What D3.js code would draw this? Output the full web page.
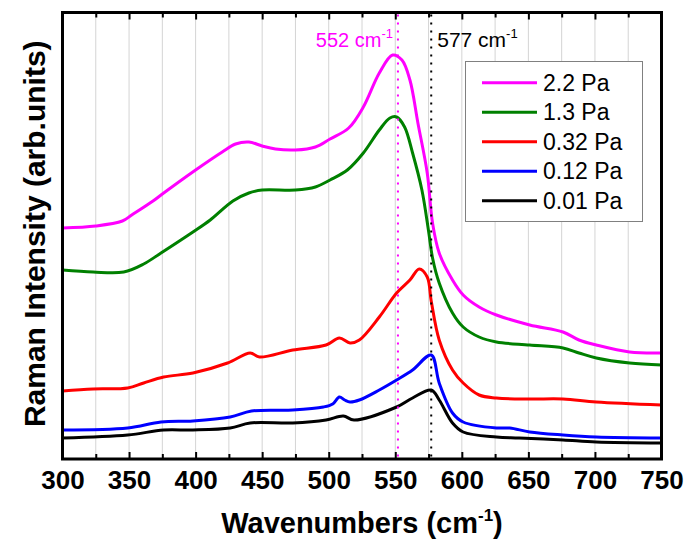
<!DOCTYPE html>
<html>
<head>
<meta charset="utf-8">
<script src="https://cdn.jsdelivr.net/npm/d3@7"></script>
<style>
  html, body { margin: 0; padding: 0; background: #fff; }
  svg { display: block; font-family: "Liberation Sans", Arial, sans-serif; }
</style>
</head>
<body>
<svg id="chart" width="685" height="542"></svg>
<script>
// ---------------- data (arbitrary intensity units) ----------------
const seriesNames = ["2.2 Pa", "1.3 Pa", "0.32 Pa", "0.12 Pa", "0.01 Pa"];
const seriesColors = ["#ff00ff", "#008000", "#ff0000", "#0000ff", "#000000"];

const wave22 = [300,325,345,352,368,375,400,420,430,440,450,460,475,490,501,515,526,538,548,555,561,567,574,578,583,593,601,613,626,651,676,688,701,726,750];
const int22  = [231,233,238,244,258,265,289,307,315,317,313,310,309,312,320,331,352,386,404,399,379,336,286,236,206,179,164,152,144,134,127,119,114,107,106];

const wave13 = [300,323,346,361,374,398,411,428,440,450,475,490,501,514,526,538,546,551,557,563,570,575,578,583,593,601,613,626,651,676,688,701,726,750];
const int13  = [189,187,187,195,206,227,239,258,266,269,269,272,279,289,306,329,341,342,332,306,269,228,201,176,146,132,122,117,114,111,106,101,96,94];

const wave032 = [300,323,349,361,376,398,424,441,448,473,498,508,516,523,538,551,561,568,574,577,583,593,601,613,626,651,676,701,750];
const int032  = [68,70,71,76,82,86,96,106,102,109,114,121,116,119,142,166,179,190,182,158,119,89,76,64,61,60,60,57,54];

const wave012 = [300,349,374,398,426,442,473,496,503,508,512,516,523,538,551,563,577,583,593,601,626,636,651,676,701,750];
const int012  = [29,31,37,38,42,48,49,52,55,62,59,57,59,69,79,89,104,76,46,37,31,31,27,24,22,21];

const wave001 = [300,349,376,398,426,441,473,498,511,519,551,563,577,583,593,601,626,643,676,701,750];
const int001  = [21,24,29,29,31,36,36,39,43,39,52,61,69,59,36,27,22,21,19,17,16];

const xTickValues = [300,350,400,450,500,550,600,650,700,750];
const minorTickValues = [325,375,425,475,525,575,625,675,725];
const markerLines = [552, 577];
const markerLabels = ["552 cm", "577 cm"];

// ---------------- layout ----------------
const svg = d3.select("#chart");
const pL = 62.5, pR = 661.5, pT = 12.5, pB = 459;
const x = d3.scaleLinear().domain([300, 750]).range([pL, pR]);
const y = d3.scaleLinear().domain([0, 446.5]).range([pB, pT]);

const series = [
  {name: seriesNames[0], color: seriesColors[0], xs: wave22, ys: int22},
  {name: seriesNames[1], color: seriesColors[1], xs: wave13, ys: int13},
  {name: seriesNames[2], color: seriesColors[2], xs: wave032, ys: int032},
  {name: seriesNames[3], color: seriesColors[3], xs: wave012, ys: int012},
  {name: seriesNames[4], color: seriesColors[4], xs: wave001, ys: int001}
];

svg.append("defs").append("clipPath").attr("id", "clip")
  .append("rect").attr("x", pL).attr("y", pT).attr("width", pR - pL).attr("height", pB - pT);

// grid lines
svg.append("g").selectAll("line")
  .data(xTickValues.concat(minorTickValues).filter(v => v > 300 && v < 750))
  .join("line")
  .attr("x1", d => x(d)).attr("x2", d => x(d))
  .attr("y1", pT).attr("y2", pB)
  .attr("stroke", "#d4d4d4").attr("stroke-width", 1);

// curves
const line = d3.line().x(d => x(d[0])).y(d => y(d[1])).curve(d3.curveCatmullRom.alpha(0.5));
const plotG = svg.append("g").attr("clip-path", "url(#clip)");
series.slice().reverse().forEach(s => {
  plotG.append("path")
    .datum(s.xs.map((v, i) => [v, s.ys[i]]))
    .attr("fill", "none")
    .attr("stroke", s.color)
    .attr("stroke-width", 3)
    .attr("stroke-linejoin", "round")
    .attr("d", line);
});

// dotted marker lines
svg.append("g").selectAll("line").data(markerLines).join("line")
  .attr("x1", d => x(d)).attr("x2", d => x(d))
  .attr("y1", pT + 2).attr("y2", pB - 1)
  .attr("stroke", (d, i) => i === 0 ? "#ff00ff" : "#000")
  .attr("stroke-width", 2)
  .attr("stroke-dasharray", "2,6");

// axes (ticks inward)
const xAxisBottom = d3.axisBottom(x).tickValues(xTickValues).tickSize(-7).tickFormat(d3.format("d")).tickPadding(12);
const gx = svg.append("g").attr("transform", `translate(0,${pB})`).call(xAxisBottom);
gx.select(".domain").remove();
gx.selectAll(".tick line").attr("stroke", "#000").attr("stroke-width", 2);
gx.selectAll(".tick text").attr("font-size", 26).attr("font-weight", "bold").attr("fill", "#000")
  .attr("font-family", "'Liberation Sans', Arial, sans-serif");

const gxm = svg.append("g").attr("transform", `translate(0,${pB})`)
  .call(d3.axisBottom(x).tickValues(minorTickValues).tickSize(-5).tickFormat(""));
gxm.select(".domain").remove();
gxm.selectAll(".tick line").attr("stroke", "#000").attr("stroke-width", 2);

const gt = svg.append("g").attr("transform", `translate(0,${pT})`)
  .call(d3.axisTop(x).tickValues(xTickValues).tickSize(-7).tickFormat(""));
gt.select(".domain").remove();
gt.selectAll(".tick line").attr("stroke", "#000").attr("stroke-width", 2);
const gtm = svg.append("g").attr("transform", `translate(0,${pT})`)
  .call(d3.axisTop(x).tickValues(minorTickValues).tickSize(-5).tickFormat(""));
gtm.select(".domain").remove();
gtm.selectAll(".tick line").attr("stroke", "#000").attr("stroke-width", 2);

// frame
svg.append("rect").attr("x", pL).attr("y", pT).attr("width", pR - pL).attr("height", pB - pT)
  .attr("fill", "none").attr("stroke", "#000").attr("stroke-width", 3);

// marker labels
const lab1 = svg.append("text").attr("x", x(markerLines[0]) - 5).attr("y", 47)
  .attr("text-anchor", "end").attr("font-size", 20).attr("fill", "#ff00ff");
lab1.append("tspan").text(markerLabels[0]);
lab1.append("tspan").attr("font-size", 13).attr("dy", -9).text("-1");

const lab2 = svg.append("text").attr("x", x(markerLines[1]) + 6).attr("y", 47)
  .attr("text-anchor", "start").attr("font-size", 21).attr("fill", "#000");
lab2.append("tspan").text(markerLabels[1]);
lab2.append("tspan").attr("font-size", 13).attr("dy", -9).text("-1");

// legend
const lg = svg.append("g");
lg.append("rect").attr("x", 465.5).attr("y", 61.5).attr("width", 177).attr("height", 160)
  .attr("fill", "#fff").attr("stroke", "#808080").attr("stroke-width", 1);
series.forEach((s, i) => {
  const yy = 82.7 + i * 29.5;
  lg.append("line").attr("x1", 482).attr("x2", 537).attr("y1", yy).attr("y2", yy)
    .attr("stroke", s.color).attr("stroke-width", 3);
  lg.append("text").attr("x", 543).attr("y", yy + 8).attr("font-size", 23).attr("fill", "#000").text(s.name);
});

// axis titles
const xt = svg.append("text").attr("x", (pL + pR) / 2).attr("y", 533)
  .attr("text-anchor", "middle").attr("font-size", 29).attr("font-weight", "bold");
xt.append("tspan").text("Wavenumbers (cm");
xt.append("tspan").attr("font-size", 17).attr("dy", -12).text("-1");
xt.append("tspan").attr("dy", 12).text(")");

svg.append("text")
  .attr("transform", `translate(45,${(pT + pB) / 2 - 2}) rotate(-90)`)
  .attr("text-anchor", "middle").attr("font-size", 30).attr("font-weight", "bold")
  .text("Raman Intensity (arb.units)");
</script>
</body>
</html>
